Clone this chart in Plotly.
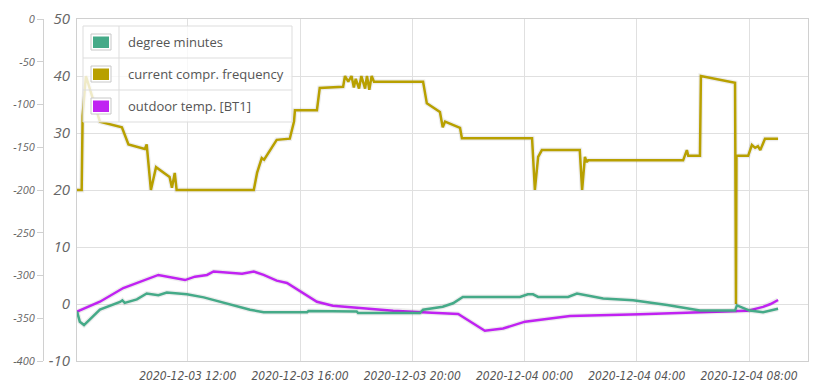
import plotly.graph_objects as go

# ---------------- data ----------------
freq_time = [
    "2020-12-03 08:03", "2020-12-03 08:13", "2020-12-03 08:15", "2020-12-03 08:22",
    "2020-12-03 08:52", "2020-12-03 09:35", "2020-12-03 09:39", "2020-12-03 09:53",
    "2020-12-03 10:28", "2020-12-03 10:32", "2020-12-03 10:41", "2020-12-03 10:52",
    "2020-12-03 11:21", "2020-12-03 11:26", "2020-12-03 11:32", "2020-12-03 11:36",
    "2020-12-03 14:21", "2020-12-03 14:28", "2020-12-03 14:38", "2020-12-03 14:43",
    "2020-12-03 15:00", "2020-12-03 15:10", "2020-12-03 15:38", "2020-12-03 15:47",
    "2020-12-03 15:49", "2020-12-03 16:36", "2020-12-03 16:42", "2020-12-03 17:32",
    "2020-12-03 17:36", "2020-12-03 17:43", "2020-12-03 17:50", "2020-12-03 17:55",
    "2020-12-03 17:59", "2020-12-03 18:06", "2020-12-03 18:11", "2020-12-03 18:19",
    "2020-12-03 18:23", "2020-12-03 18:28", "2020-12-03 18:33", "2020-12-03 18:38",
    "2020-12-03 20:23", "2020-12-03 20:31", "2020-12-03 20:59", "2020-12-03 21:05",
    "2020-12-03 21:10", "2020-12-03 21:42", "2020-12-03 21:46",
    "2020-12-04 00:16", "2020-12-04 00:22", "2020-12-04 00:29", "2020-12-04 00:37",
    "2020-12-04 01:58", "2020-12-04 02:03", "2020-12-04 02:09", "2020-12-04 02:13",
    "2020-12-04 02:16", "2020-12-04 05:39", "2020-12-04 05:47", "2020-12-04 05:50",
    "2020-12-04 06:15", "2020-12-04 06:17", "2020-12-04 07:30", "2020-12-04 07:32",
    "2020-12-04 07:33", "2020-12-04 07:58", "2020-12-04 08:06", "2020-12-04 08:13",
    "2020-12-04 08:19", "2020-12-04 08:24", "2020-12-04 08:34", "2020-12-04 09:02",
]
freq_vals = [
    20, 20, 33, 40,
    32, 31, 31, 28,
    27.2, 28, 20, 24,
    22.3, 20.4, 23, 20,
    20, 23, 25.6, 25.3,
    27.4, 28.8, 29, 32,
    34, 34, 37.9, 38.1,
    40, 39, 40, 38,
    39.5, 37.8, 40, 37.8,
    40, 37.6, 40, 39,
    39, 35.2, 33.7, 31,
    32, 30.9, 29.1,
    29.1, 20, 25.8, 27,
    27, 20, 25.8, 24.9,
    25.2, 25.2, 27, 26,
    26, 40, 38.8, 0,
    26, 26, 27.9, 27.4,
    27.7, 27, 29, 29,
]

temp_time = [
    "2020-12-03 08:03", "2020-12-03 08:52", "2020-12-03 09:42", "2020-12-03 10:11",
    "2020-12-03 10:57", "2020-12-03 11:54", "2020-12-03 12:15", "2020-12-03 12:41",
    "2020-12-03 12:55", "2020-12-03 13:56", "2020-12-03 14:21", "2020-12-03 14:42",
    "2020-12-03 15:10", "2020-12-03 15:32", "2020-12-03 16:08", "2020-12-03 16:36",
    "2020-12-03 17:10", "2020-12-03 18:08", "2020-12-03 19:19", "2020-12-03 20:31",
    "2020-12-03 21:38", "2020-12-03 22:35", "2020-12-03 23:14", "2020-12-04 00:01",
    "2020-12-04 01:37", "2020-12-04 04:07", "2020-12-04 06:15", "2020-12-04 07:56",
    "2020-12-04 08:30", "2020-12-04 08:46", "2020-12-04 09:02",
]
temp_vals = [
    -1.35, 0.4, 2.8, 3.7,
    5.1, 4.2, 4.8, 5.1,
    5.7, 5.3, 5.7, 5.1,
    4.1, 3.7, 1.9, 0.4,
    -0.3, -0.7, -1.2, -1.5,
    -1.75, -4.7, -4.3, -3.1,
    -2.1, -1.8, -1.5, -1.2,
    -0.5, 0.0, 0.7,
]

dm_time = [
    "2020-12-03 08:03", "2020-12-03 08:09", "2020-12-03 08:18", "2020-12-03 08:30",
    "2020-12-03 08:52", "2020-12-03 09:35", "2020-12-03 09:40", "2020-12-03 09:45",
    "2020-12-03 10:11", "2020-12-03 10:32", "2020-12-03 10:57", "2020-12-03 11:15",
    "2020-12-03 11:58", "2020-12-03 12:34", "2020-12-03 13:23", "2020-12-03 14:13",
    "2020-12-03 14:42", "2020-12-03 16:15", "2020-12-03 16:18", "2020-12-03 18:01",
    "2020-12-03 18:04", "2020-12-03 20:16", "2020-12-03 20:23", "2020-12-03 21:05",
    "2020-12-03 21:27", "2020-12-03 21:48", "2020-12-03 23:50", "2020-12-04 00:07",
    "2020-12-04 00:18", "2020-12-04 00:29", "2020-12-04 01:33", "2020-12-04 01:52",
    "2020-12-04 02:48", "2020-12-04 03:52", "2020-12-04 05:05", "2020-12-04 06:15",
    "2020-12-04 07:30", "2020-12-04 07:34", "2020-12-04 08:01", "2020-12-04 08:30",
    "2020-12-04 09:02",
]
dm_vals = [
    -342, -354, -358, -352,
    -340, -331, -329, -332,
    -328, -321, -323, -320,
    -322, -325.6, -333, -340,
    -343, -343, -341.5, -342,
    -344, -344, -340, -336.5,
    -332.5, -325, -325, -322,
    -322, -325, -325, -321,
    -327, -329, -334.5, -341,
    -341, -335, -341, -343,
    -339,
]

series_names = ["degree minutes", "current compr. frequency", "outdoor temp. [BT1]"]
series_colors = ["#45aa88", "#b8a000", "#c022f2"]

main_tickvals = [-10, 0, 10, 20, 30, 40, 50]
main_ticktext = ["-10", "0", "10", "20", "30", "40", "50"]
dm_tickvals = [-400, -350, -300, -250, -200, -150, -100, -50, 0]
dm_ticktext = ["-400", "-350", "-300", "-250", "-200", "-150", "-100", "-50", "0"]

x_range = ["2020-12-03 08:03", "2020-12-04 10:06"]

# ---------------- layout helpers ----------------
# the page body has an 8px margin: figure origin sits at (8, 8) in the window
OFF = 8
W, H = 827 - OFF, 392 - OFF
# target plot box in window pixels: left 77, right 808, top 19, bottom 361
ML = 5
MT = 19 - OFF
MR = 827 - 808
MB = 392 - 361
PW, PH = W - ML - MR, H - MT - MB


def px(x):
    return (x - OFF - ML) / PW


def py(y):
    return (H - MB - (y - OFF)) / PH


fig = go.Figure()

# shadows
for t, v, ax in [(dm_time, dm_vals, "y2"), (freq_time, freq_vals, "y"), (temp_time, temp_vals, "y")]:
    fig.add_trace(go.Scatter(x=t, y=v, yaxis=ax, mode="lines",
                             line=dict(color="rgba(0,0,0,0.07)", width=5),
                             hoverinfo="skip", showlegend=False))

fig.add_trace(go.Scatter(x=dm_time, y=dm_vals, yaxis="y2", mode="lines", name=series_names[0],
                         line=dict(color=series_colors[0], width=2.5), showlegend=False))
fig.add_trace(go.Scatter(x=freq_time, y=freq_vals, yaxis="y", mode="lines", name=series_names[1],
                         line=dict(color=series_colors[1], width=2.5), showlegend=False))
fig.add_trace(go.Scatter(x=temp_time, y=temp_vals, yaxis="y", mode="lines", name=series_names[2],
                         line=dict(color=series_colors[2], width=2.5), showlegend=False))

tick_font = dict(family="Liberation Sans Narrow, DejaVu Sans Condensed, Arial Narrow, sans-serif",
                 size=12, color="#555", style="italic")

fig.update_layout(
    width=W, height=H,
    margin=dict(l=ML, r=MR, t=MT, b=MB, autoexpand=False),
    paper_bgcolor="white", plot_bgcolor="white",
    showlegend=False,
    xaxis=dict(
        domain=[px(77), 1], range=x_range, type="date",
        tick0="2020-12-03 00:00", dtick=4 * 3600 * 1000,
        tickformat="%Y-%m-%d %H:%M", tickfont=tick_font,
        showgrid=True, gridcolor="#e0e0e0", gridwidth=1,
        showline=True, linecolor="#d0d0d0", mirror=True,
        ticks="", zeroline=False, ticklabelstandoff=4,
    ),
    yaxis=dict(
        range=[-10, 50], tickvals=main_tickvals, ticktext=main_ticktext,
        tickfont=dict(family="Open Sans, DejaVu Sans, sans-serif", size=15, color="#666", style="italic"),
        showgrid=True, gridcolor="#e0e0e0", gridwidth=1,
        showline=True, linecolor="#d0d0d0", mirror=True,
        zeroline=False, ticks="", ticklabelstandoff=3,
    ),
    yaxis2=dict(
        range=[-400, 0], tickvals=dm_tickvals, ticktext=dm_ticktext,
        overlaying="y", anchor="free", position=px(43), side="left",
        tickfont=dict(family="Open Sans, DejaVu Sans, sans-serif", size=11, color="#666", style="italic"),
        showgrid=False, showline=True, linecolor="#d0d0d0",
        ticks="outside", ticklen=6, tickcolor="#d0d0d0",
        zeroline=False,
    ),
)

# ---------------- custom legend ----------------
shapes = []
annotations = []
LX0, LX1, LXS = 83, 292, 119
LY0, LY1 = 26, 122
shapes.append(dict(type="rect", xref="paper", yref="paper", layer="above",
                   x0=px(LX0), x1=px(LX1), y0=py(LY1), y1=py(LY0),
                   fillcolor="rgba(255,255,255,0.78)", line=dict(color="#dddddd", width=1)))
shapes.append(dict(type="line", xref="paper", yref="paper", layer="above",
                   x0=px(LXS), x1=px(LXS), y0=py(LY1), y1=py(LY0),
                   line=dict(color="#dddddd", width=1)))
row_h = (LY1 - LY0) / 3
for i, (name, col) in enumerate(zip(series_names, series_colors)):
    top = LY0 + i * row_h
    cy = top + row_h / 2
    if i > 0:
        shapes.append(dict(type="line", xref="paper", yref="paper", layer="above",
                           x0=px(LX0), x1=px(LX1), y0=py(top), y1=py(top),
                           line=dict(color="#dddddd", width=1)))
    shapes.append(dict(type="rect", xref="paper", yref="paper", layer="above",
                       x0=px(91), x1=px(111), y0=py(cy + 8), y1=py(cy - 8),
                       fillcolor="white", line=dict(color="#c8c8c8", width=1)))
    shapes.append(dict(type="rect", xref="paper", yref="paper", layer="above",
                       x0=px(93), x1=px(109), y0=py(cy + 6), y1=py(cy - 5.5),
                       fillcolor=col, line=dict(width=0)))
    annotations.append(dict(xref="paper", yref="paper", x=px(126), y=py(cy),
                            xanchor="left", yanchor="middle", showarrow=False,
                            text=name,
                            font=dict(family="Open Sans, DejaVu Sans, sans-serif", size=13, color="#555")))

fig.update_layout(shapes=shapes, annotations=annotations)

fig.write_html("out.html")
